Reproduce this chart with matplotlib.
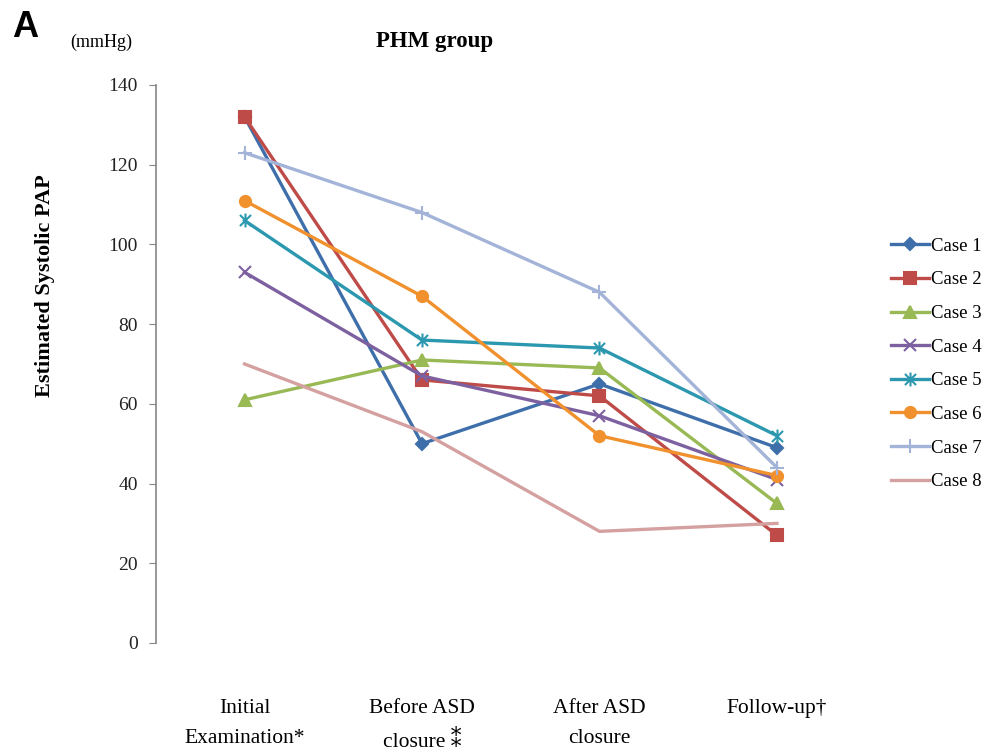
import matplotlib.pyplot as plt
from matplotlib.path import Path

# dados (mmHg)
etapas = ['Initial\nExamination*', 'Before ASD\nclosure \u2051', 'After ASD\nclosure', 'Follow-up\u2020']
casos = ['Case 1', 'Case 2', 'Case 3', 'Case 4', 'Case 5', 'Case 6', 'Case 7', 'Case 8']
case1 = [132, 50, 65, 49]
case2 = [132, 66, 62, 27]
case3 = [61, 71, 69, 35]
case4 = [93, 67, 57, 41]
case5 = [106, 76, 74, 52]
case6 = [111, 87, 52, 42]
case7 = [123, 108, 88, 44]
case8 = [70, 53, 28, 30]

# marcador estrela do Excel: X com traço vertical
estrela = Path([(0, -1), (0, 1), (-0.8, -0.8), (0.8, 0.8), (-0.8, 0.8), (0.8, -0.8)],
               [Path.MOVETO, Path.LINETO, Path.MOVETO, Path.LINETO, Path.MOVETO, Path.LINETO])

valores = [case1, case2, case3, case4, case5, case6, case7, case8]
cores = ['#3F6FAA', '#BE4B48', '#98B954', '#7D60A0', '#2B98AF', '#F0912E', '#A3B4D8', '#D4A0A0']
marcadores = ['D', 's', '^', 'x', estrela, 'o', '+', None]
tamanhos = [6, 8, 8, 8, 10, 8, 10, 0]

serif = ['Liberation Serif', 'DejaVu Serif', 'DejaVu Sans']
plt.rcParams['font.family'] = serif

fig = plt.figure(figsize=(9.86, 7.52), dpi=100)
ax = fig.add_axes([0.158, 0.145, 0.72, 0.742])

x = range(len(etapas))
for nome, v, c, m, ms in zip(casos, valores, cores, marcadores, tamanhos):
    ax.plot(x, v, color=c, lw=2.4, marker=m, markersize=ms, markeredgewidth=1.5, label=nome)

ax.set_xlim(-0.5, 3.5)
ax.set_ylim(0, 140)
ax.set_yticks(range(0, 141, 20))
ax.set_xticks(list(x))
ax.set_xticklabels(etapas, fontsize=15.5, linespacing=1.85)
ax.tick_params(axis='x', length=0, pad=40)
ax.tick_params(axis='y', labelsize=14, direction='out', length=5, pad=8,
               color='#868686', labelcolor='#222222')
for lado in ['top', 'right', 'bottom']:
    ax.spines[lado].set_visible(False)
ax.spines['left'].set_color('#868686')
ax.spines['left'].set_linewidth(1.2)

fig.legend(loc='center left', bbox_to_anchor=(0.887, 0.516), frameon=False,
           fontsize=13.5, handlelength=2.0, handletextpad=0.1, labelspacing=0.88)

fig.text(0.441, 0.945, 'PHM group', fontsize=16.5, fontweight='bold', ha='center', va='center')
fig.text(0.012, 0.963, 'A', fontsize=26, fontweight='bold', family='Liberation Sans', va='center')
fig.text(0.071, 0.944, '(mmHg)', fontsize=13, va='center')
fig.text(0.046, 0.62, 'Estimated Systolic PAP', fontsize=16, fontweight='bold',
         rotation=90, ha='center', va='center')

plt.savefig('out.png', dpi=100)
